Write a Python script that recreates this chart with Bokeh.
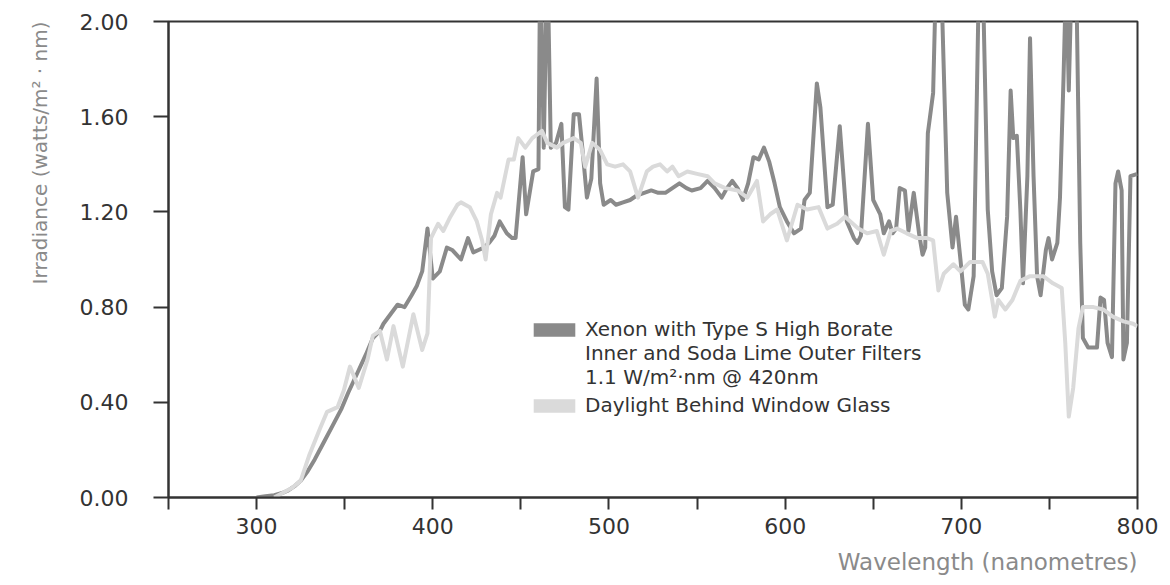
from bokeh.plotting import figure
from bokeh.models import Range1d, FixedTicker, PrintfTickFormatter, Legend, LegendItem, Title
from bokeh.embed import file_html
from bokeh.resources import INLINE

# ---- data ----
xenon_nm = [300, 305, 310, 315, 318, 322, 325, 329, 333, 338, 343, 348, 352, 357, 362, 366, 370, 372,
            376, 380, 384, 388, 391, 394, 397, 400, 404, 408, 411, 416, 420, 423, 426, 429, 432, 435,
            438, 442, 445, 447, 451, 453, 457, 460, 461, 463, 465, 467, 470, 473, 475, 477, 480, 483,
            485, 487.5, 490, 493, 495, 497, 501, 504, 508, 512, 516, 520, 524, 528, 532, 536, 540,
            544, 547, 552, 556, 560, 564, 567, 570, 573, 576, 579, 582, 585, 588, 591, 594, 597, 601,
            605, 609, 611, 614, 618, 620, 624, 627, 631, 635, 639, 641, 643, 647, 650, 654, 656, 659,
            661, 663, 665, 668, 670, 673, 676, 678, 679.5, 681, 684, 687, 692, 695, 697, 699.5, 702,
            704, 707, 711, 715, 717.5, 720, 723, 726, 728, 729.5, 731.5, 733.5, 735, 737.5, 739, 741,
            743, 745, 748, 749.5, 751.5, 754.5, 756, 758, 759.5, 761, 763, 765, 767.5, 769, 772, 777,
            779, 781, 783, 785.5, 787.5, 789, 791, 792, 794, 796, 800]
xenon_val = [0.0, 0.005, 0.01, 0.02, 0.03, 0.05, 0.07, 0.11, 0.16, 0.23, 0.30, 0.37, 0.44, 0.52, 0.60,
             0.67, 0.70, 0.73, 0.77, 0.81, 0.80, 0.85, 0.89, 0.95, 1.13, 0.92, 0.95, 1.05, 1.04, 1.00,
             1.09, 1.03, 1.04, 1.05, 1.07, 1.10, 1.16, 1.11, 1.09, 1.09, 1.43, 1.19, 1.37, 1.38, 2.30,
             1.47, 2.30, 1.47, 1.49, 1.57, 1.22, 1.21, 1.61, 1.61, 1.46, 1.26, 1.34, 1.76, 1.32, 1.23,
             1.25, 1.23, 1.24, 1.25, 1.27, 1.28, 1.29, 1.28, 1.28, 1.30, 1.32, 1.30, 1.29, 1.30, 1.33,
             1.30, 1.26, 1.30, 1.33, 1.30, 1.25, 1.32, 1.43, 1.42, 1.47, 1.41, 1.32, 1.22, 1.16, 1.11,
             1.13, 1.25, 1.28, 1.74, 1.64, 1.22, 1.23, 1.56, 1.16, 1.09, 1.07, 1.10, 1.57, 1.25, 1.19,
             1.11, 1.16, 1.11, 1.13, 1.30, 1.29, 1.12, 1.28, 1.11, 1.02, 1.05, 1.53, 1.70, 2.60, 1.28,
             1.05, 1.18, 1.00, 0.81, 0.79, 0.93, 2.60, 1.21, 0.95, 0.85, 0.88, 1.18, 1.71, 1.51, 1.52,
             1.21, 0.90, 1.35, 1.93, 1.35, 0.93, 0.85, 1.04, 1.09, 1.00, 1.07, 1.26, 1.76, 2.20, 1.71,
             2.30, 2.30, 1.07, 0.67, 0.63, 0.63, 0.84, 0.83, 0.65, 0.59, 1.32, 1.37, 1.29, 0.58, 0.65,
             1.35, 1.36]

daylight_nm = [310, 315, 320, 325, 330, 336, 340, 346, 349.5, 353, 358, 363, 366, 370, 374, 377.7, 383,
               389, 394, 397, 399, 401, 403, 406, 410, 414, 416, 421, 425, 428, 430, 433, 436.5, 438.5,
               443, 446, 448.5, 452.5, 456.5, 462, 465, 470.5, 474, 480, 484, 486.5, 490.5, 495, 499,
               503.5, 508, 512, 516.5, 521.5, 525, 529, 533, 536, 539.5, 544.5, 550, 556, 560, 566,
               573, 578.5, 584, 587.5, 591.5, 595.5, 601, 607, 612.5, 619, 624, 629.5, 634, 641.5,
               646.5, 652, 656, 660, 663.5, 669, 675, 680.5, 684, 687, 690, 695.5, 699.5, 705, 712,
               715, 717.5, 719, 721, 725, 729, 733.5, 739, 746.5, 752, 757, 759, 761, 763.5, 766.5,
               769, 775, 780.5, 786, 792, 797.5, 800]
daylight_val = [0.0, 0.02, 0.04, 0.07, 0.18, 0.29, 0.36, 0.38, 0.45, 0.55, 0.46, 0.58, 0.68, 0.70, 0.58,
                0.72, 0.55, 0.77, 0.62, 0.69, 1.09, 1.12, 1.15, 1.12, 1.18, 1.23, 1.24, 1.22, 1.16, 1.08,
                1.00, 1.19, 1.28, 1.26, 1.42, 1.42, 1.51, 1.47, 1.51, 1.54, 1.49, 1.47, 1.49, 1.51, 1.49,
                1.39, 1.49, 1.46, 1.40, 1.39, 1.40, 1.37, 1.26, 1.37, 1.39, 1.40, 1.37, 1.39, 1.35, 1.37,
                1.36, 1.35, 1.32, 1.30, 1.29, 1.26, 1.33, 1.16, 1.19, 1.21, 1.08, 1.23, 1.21, 1.22, 1.13,
                1.15, 1.18, 1.13, 1.11, 1.12, 1.02, 1.12, 1.13, 1.11, 1.09, 1.09, 1.08, 0.87, 0.94, 0.98,
                0.95, 0.99, 0.99, 0.94, 0.83, 0.76, 0.83, 0.79, 0.83, 0.91, 0.93, 0.93, 0.90, 0.88, 0.65,
                0.34, 0.46, 0.71, 0.80, 0.80, 0.79, 0.76, 0.74, 0.73, 0.72]

x_ticks = [250, 300, 350, 400, 450, 500, 550, 600, 650, 700, 750, 800]
x_tick_labels = {250: "", 300: "300", 350: "", 400: "400", 450: "", 500: "500", 550: "",
                 600: "600", 650: "", 700: "700", 750: "", 800: "800"}
y_ticks = [0.0, 0.4, 0.8, 1.2, 1.6, 2.0]

x_title = "Wavelength (nanometres)"
y_title = "Irradiance (watts/m² · nm)"
xenon_label_lines = ["Xenon with Type S High Borate",
                     "Inner and Soda Lime Outer Filters",
                     "1.1 W/m²·nm @ 420nm"]
daylight_label = "Daylight Behind Window Glass"

XENON = "#8a8a8a"
DAYLIGHT = "#dadada"
INK = "#333333"
FONT = "DejaVu Sans"
NAN = float("nan")

p = figure(width=1170, height=585, output_backend="svg", toolbar_location=None,
           x_range=Range1d(250, 800), y_range=Range1d(0, 2.0),
           min_border_left=168, min_border_right=33, min_border_top=21, min_border_bottom=88)
p.background_fill_color = "white"
p.border_fill_color = "white"
p.outline_line_color = INK
p.outline_line_width = 2
p.xgrid.visible = False
p.ygrid.visible = False

r_x = p.line(xenon_nm, xenon_val, line_color=XENON, line_width=4, line_join="round")
r_d = p.line(daylight_nm, daylight_val, line_color=DAYLIGHT, line_width=4, line_join="round")

# swatch renderers for the legend (a single NaN point, so nothing is drawn in the plot)
sw_x = p.rect(x=[NAN], y=[NAN], width=1, height=1, fill_color=XENON, line_color=None)
sw_d = p.rect(x=[NAN], y=[NAN], width=1, height=1, fill_color=DAYLIGHT, line_color=None)
sw_blank = p.rect(x=[NAN], y=[NAN], width=1, height=1, fill_color=None, line_color=None)

for ax in (p.xaxis[0], p.yaxis[0]):
    ax.axis_line_color = INK
    ax.axis_line_width = 2
    ax.major_tick_line_color = INK
    ax.major_tick_line_width = 2
    ax.major_tick_in = 0
    ax.minor_tick_line_color = None
    ax.major_label_text_font = FONT
    ax.major_label_text_font_size = "22px"
    ax.major_label_text_color = INK

xa = p.xaxis[0]
xa.ticker = FixedTicker(ticks=x_ticks)
xa.major_label_overrides = x_tick_labels
xa.major_tick_out = 12
xa.major_label_standoff = 8

ya = p.yaxis[0]
ya.ticker = FixedTicker(ticks=y_ticks)
ya.formatter = PrintfTickFormatter(format="%.2f")
ya.major_tick_out = 15
ya.major_label_standoff = 25

# axis titles, aligned to the right / top end of the frame
t_x = Title(text=x_title, align="right", text_font=FONT, text_font_size="23px",
            text_font_style="normal", text_color="#8a8a8a", standoff=20)
t_y = Title(text=y_title, align="right", text_font=FONT, text_font_size="20px",
            text_font_style="normal", text_color="#8a8a8a", standoff=50)
p.add_layout(t_x, "below")
p.add_layout(t_y, "left")


def style_legend(lg):
    lg.glyph_width = 52
    lg.glyph_height = 17
    lg.label_text_font = FONT
    lg.label_text_font_size = "20px"
    lg.label_text_color = INK
    lg.label_height = 20
    lg.label_standoff = 5
    lg.spacing = 0
    lg.padding = 0
    lg.margin = 0
    lg.border_line_color = None
    lg.background_fill_alpha = 0


legend_x = Legend(items=[LegendItem(label=xenon_label_lines[0], renderers=[sw_x]),
                         LegendItem(label=xenon_label_lines[1], renderers=[sw_blank]),
                         LegendItem(label=xenon_label_lines[2], renderers=[sw_blank])],
                  location=(360, 108), orientation="vertical")
legend_d = Legend(items=[LegendItem(label=daylight_label, renderers=[sw_d])],
                  location=(360, 80), orientation="vertical")
style_legend(legend_x)
style_legend(legend_d)
p.add_layout(legend_x, "center")
p.add_layout(legend_d, "center")

open("out.html", "w").write(file_html(p, INLINE))
